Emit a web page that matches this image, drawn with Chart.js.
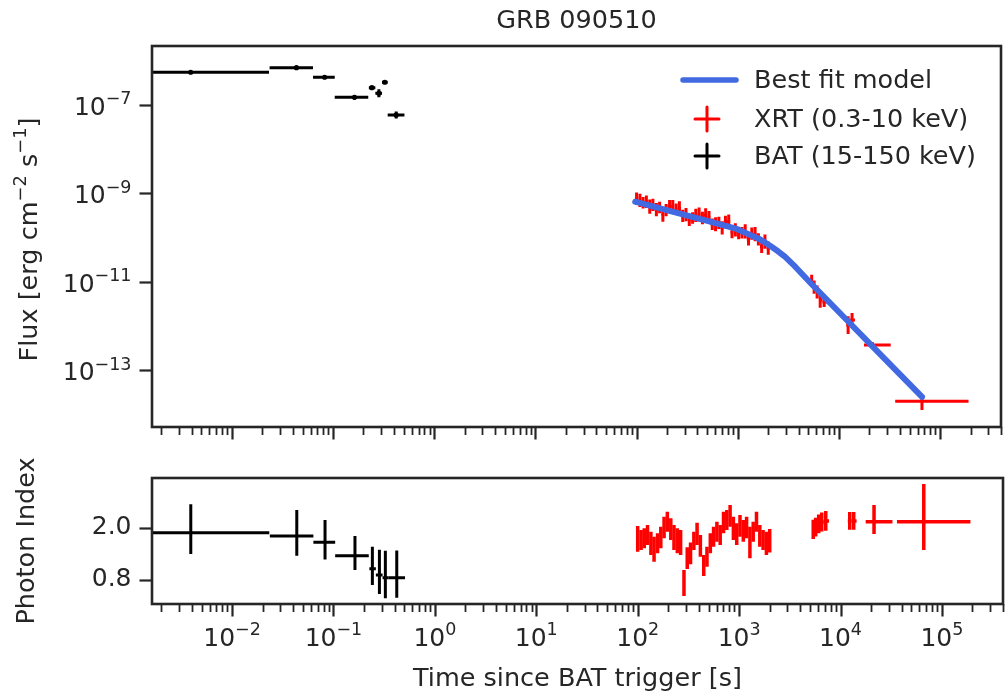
<!DOCTYPE html>
<html><head><meta charset="utf-8">
<script src="https://cdn.jsdelivr.net/npm/chart.js@4"></script>
<style>
html,body{margin:0;padding:0;background:#fff;}
#wrap{position:relative;width:1005px;height:698px;overflow:hidden;}
canvas{position:absolute;left:0;top:0;}
</style></head>
<body><div id="wrap"><canvas id="cTop" width="1005" height="698"></canvas><canvas id="cBot" width="1005" height="698"></canvas></div>
<script>
// ---------------- DATA ----------------
const xTickValues = [1e-2, 1e-1, 1e0, 1e1, 1e2, 1e3, 1e4, 1e5];
const xTickLabels = ['10^−2', '10^−1', '10^0', '10^1', '10^2', '10^3', '10^4', '10^5'];
const fluxTickValues = [1e-7, 1e-9, 1e-11, 1e-13];
const fluxTickLabels = ['10^−7', '10^−9', '10^−11', '10^−13'];
const indexTickValues = [0.8, 2.0];
const indexTickLabels = ['0.8', '2.0'];
const fluxAxisTitle = ['Flux [erg cm', '^−2', ' s', '^−1', ']'];

// BAT (15-150 keV)
const batTime   = [3.92e-3, 0.0435, 0.0826, 0.163, 0.242, 0.284, 0.325, 0.421];
const batTimeLo = [1e-4, 0.0236, 0.0634, 0.104, 0.226, 0.262, 0.305, 0.347];
const batTimeHi = [0.0233, 0.0634, 0.104, 0.223, 0.262, 0.305, 0.347, 0.508];
const batFlux   = [5.5e-7, 6.98e-7, 4.24e-7, 1.49e-7, 2.46e-7, 1.84e-7, 3.27e-7, 5.94e-8];
const batFluxErrDex = [0.03, 0.03, 0.04, 0.05, 0.04, 0.09, 0.03, 0.08];
const batIndex   = [1.885, 1.81, 1.665, 1.358, 1.059, 0.915, 0.853, 0.853];
const batIndexLo = [1.397, 1.358, 1.268, 1.029, 0.685, 0.479, 0.38, 0.394];
const batIndexHi = [2.537, 2.406, 2.177, 1.81, 1.564, 1.495, 1.472, 1.479];

// XRT (0.3-10 keV), first orbit
const xrtTime = [100,108,116,125,135,145,157,169,182,196,212,228,246,265,286,308,332,358,385,415,448,482,520,560,604,651,702,756,815,878,947,1020,1100,1185,1278,1377,1484,1600,1724,1858,2003];
const xrtTimeErr = [3.8,4.1,4.4,4.8,5.1,5.5,6.0,6.4,6.9,7.5,8.1,8.7,9.3,10.1,10.9,11.7,12.6,13.6,14.6,15.8,17.0,18.3,19.8,21.3,23.0,24.7,26.7,28.7,31.0,33.4,36.0,38.8,41.8,45.0,48.6,52.3,56.4,60.8,65.5,70.6,76.1];
const xrtFlux = [7.59e-10,6.92e-10,6.17e-10,6.46e-10,5.02e-10,5.51e-10,4.28e-10,4.80e-10,3.32e-10,4.18e-10,5.03e-10,5.15e-10,4.38e-10,4.59e-10,3.10e-10,3.33e-10,2.52e-10,2.77e-10,3.18e-10,3.33e-10,2.77e-10,3.26e-10,2.90e-10,2.01e-10,2.01e-10,2.16e-10,1.67e-10,2.26e-10,2.31e-10,1.33e-10,1.49e-10,1.27e-10,1.29e-10,1.38e-10,9.33e-11,1.23e-10,1.20e-10,9.12e-11,6.31e-11,8.13e-11,5.75e-11];
const xrtFluxErrDex = [0.14,0.15,0.13,0.14,0.16,0.14,0.15,0.13,0.16,0.14,0.15,0.14,0.13,0.16,0.14,0.15,0.14,0.13,0.15,0.16,0.14,0.15,0.14,0.13,0.16,0.14,0.15,0.14,0.16,0.14,0.15,0.14,0.13,0.16,0.15,0.14,0.16,0.14,0.15,0.16,0.15];
const xrtIndex = [1.744,1.718,1.757,1.833,1.641,1.507,1.642,1.775,2.005,2.138,1.967,1.775,1.70,1.66,0.731,1.30,1.412,1.698,1.859,1.584,1.133,1.335,1.642,1.794,1.908,1.833,2.119,2.177,2.272,1.985,1.852,2.042,1.928,2.005,1.66,1.908,2.138,1.813,1.718,1.641,1.70];
const xrtIndexErr = [0.295,0.229,0.229,0.229,0.267,0.287,0.229,0.248,0.248,0.229,0.249,0.287,0.287,0.287,0.298,0.25,0.25,0.21,0.256,0.249,0.241,0.229,0.229,0.229,0.229,0.229,0.248,0.229,0.249,0.267,0.249,0.249,0.249,0.248,0.362,0.229,0.229,0.249,0.229,0.267,0.267];

// XRT, later orbits
const xrtLateTime   = [5380, 5690, 6090, 6530, 7150, 12330, 13490, 21400, 66200];
const xrtLateTimeLo = [5250, 5530, 5890, 6310, 6850, 11800, 12900, 17700, 36000];
const xrtLateTimeHi = [5530, 5890, 6310, 6850, 7700, 12900, 14400, 32500, 191000];
const xrtLateFlux   = [1.05e-11, 7.6e-12, 5.9e-12, 3.9e-12, 3.5e-12, 1.05e-12, 1.37e-12, 3.7e-13, 2.0e-14];
const xrtLateFluxLo = [7.6e-12, 5.4e-12, 4.2e-12, 2.6e-12, 2.7e-12, 6.6e-13, 9.5e-13, 3.15e-13, 1.26e-14];
const xrtLateFluxHi = [1.45e-11, 1.07e-11, 8.3e-12, 5.8e-12, 4.6e-12, 1.66e-12, 1.98e-12, 4.35e-13, 2.5e-14];
const xrtLateIndex   = [1.959, 2.016, 2.085, 2.131, 2.154, 2.154, 2.154, 2.138, 2.138];
const xrtLateIndexLo = [1.74, 1.80, 1.87, 1.91, 1.93, 1.95, 1.95, 1.855, 1.488];
const xrtLateIndexHi = [2.18, 2.23, 2.30, 2.35, 2.38, 2.36, 2.36, 2.52, 3.0];

// Best fit model
const modelTime = [97, 207, 440, 940, 1250, 1596, 1860, 2160, 2500, 2925, 3700, 5360, 11430, 24400, 66300];
const modelFlux = [6.49e-10, 4.06e-10, 2.59e-10, 1.62e-10, 1.22e-10, 9.6e-11, 7.8e-11, 6.2e-11, 4.9e-11, 3.7e-11, 2.2e-11, 8.95e-12, 1.52e-12, 2.58e-13, 2.51e-14];

// ---------------- BUILD POINTS ----------------
const dex = d => Math.pow(10, d);
const batFluxPts = batTime.map((t, i) => ({x: t, y: batFlux[i], xlo: batTimeLo[i], xhi: batTimeHi[i], ylo: batFlux[i] / dex(batFluxErrDex[i]), yhi: batFlux[i] * dex(batFluxErrDex[i])}));
const batIndexPts = batTime.map((t, i) => ({x: t, y: batIndex[i], xlo: batTimeLo[i], xhi: batTimeHi[i], ylo: batIndexLo[i], yhi: batIndexHi[i]}));
const xrtFluxPts = xrtTime.map((t, i) => ({x: t, y: xrtFlux[i], xlo: t - xrtTimeErr[i], xhi: t + xrtTimeErr[i], ylo: xrtFlux[i] / dex(xrtFluxErrDex[i]), yhi: xrtFlux[i] * dex(xrtFluxErrDex[i])}))
  .concat(xrtLateTime.map((t, i) => ({x: t, y: xrtLateFlux[i], xlo: xrtLateTimeLo[i], xhi: xrtLateTimeHi[i], ylo: xrtLateFluxLo[i], yhi: xrtLateFluxHi[i]})));
const xrtIndexPts = xrtTime.map((t, i) => ({x: t, y: xrtIndex[i], xlo: t - xrtTimeErr[i], xhi: t + xrtTimeErr[i], ylo: xrtIndex[i] - xrtIndexErr[i], yhi: xrtIndex[i] + xrtIndexErr[i]}))
  .concat(xrtLateTime.map((t, i) => ({x: t, y: xrtLateIndex[i], xlo: xrtLateTimeLo[i], xhi: xrtLateTimeHi[i], ylo: xrtLateIndexLo[i], yhi: xrtLateIndexHi[i]})));
const modelPts = modelTime.map((t, i) => ({x: t, y: modelFlux[i]}));

// ---------------- STYLE ----------------
const INK = '#262626';
const FONT = "'DejaVu Sans', sans-serif";
const X_MIN = 1.625e-3, X_MAX = 4.0e5;
const TICK_FS = 25, LABEL_FS = 25.5, TICK_LEN = 12.5, TICK_PAD = 8;

// draw "base^exp" strings (mathtext-like superscripts)
function mathParts(s) { return s.split(/(\^[^\s\]]+)/).filter(p => p.length); }
function mathWidth(ctx, parts, S) {
  let w = 0;
  parts.forEach(p => { const sup = p[0] === '^'; ctx.font = (sup ? S * 0.7 : S) + 'px ' + FONT; w += ctx.measureText(sup ? p.slice(1) : p).width; });
  return w;
}
function mathDraw(ctx, parts, x, baseline, S) {
  ctx.textAlign = 'left'; ctx.textBaseline = 'alphabetic';
  parts.forEach(p => {
    const sup = p[0] === '^'; const t = sup ? p.slice(1) : p;
    ctx.font = (sup ? S * 0.7 : S) + 'px ' + FONT;
    ctx.fillText(t, x, sup ? baseline - 0.42 * S : baseline);
    x += ctx.measureText(t).width;
  });
}

const errorBarPlugin = {
  id: 'errorBars',
  beforeDatasetsDraw(chart) {
    const {ctx, chartArea: a, scales: {x, y}} = chart;
    ctx.save();
    ctx.beginPath(); ctx.rect(a.left, a.top, a.right - a.left, a.bottom - a.top); ctx.clip();
    chart.data.datasets.forEach(ds => {
      if (!ds.errColor) return;
      ctx.strokeStyle = ds.errColor; ctx.lineWidth = ds.errWidth; ctx.lineCap = 'butt';
      ds.data.forEach(p => {
        const px = x.getPixelForValue(p.x), py = y.getPixelForValue(p.y);
        ctx.beginPath();
        ctx.moveTo(x.getPixelForValue(p.xlo), py); ctx.lineTo(x.getPixelForValue(p.xhi), py);
        ctx.moveTo(px, y.getPixelForValue(p.ylo)); ctx.lineTo(px, y.getPixelForValue(p.yhi));
        ctx.stroke();
      });
    });
    ctx.restore();
  }
};

const framePlugin = {
  id: 'frame',
  afterDraw(chart, args, opts) {
    const {ctx, chartArea: a, scales: {x, y}} = chart;
    ctx.save();
    ctx.strokeStyle = INK; ctx.fillStyle = INK; ctx.lineCap = 'butt';
    for (let e = -3; e <= 5; e++) for (let m = 1; m <= 9; m++) {
      const v = m * Math.pow(10, e);
      if (v < X_MIN || v > X_MAX) continue;
      const px = Math.round(x.getPixelForValue(v)) + 0.5;
      ctx.lineWidth = m === 1 ? 2.2 : 1.8;
      ctx.beginPath(); ctx.moveTo(px, a.bottom); ctx.lineTo(px, a.bottom + (m === 1 ? TICK_LEN : 8)); ctx.stroke();
    }
    opts.yTicks.forEach(v => {
      const py = Math.round(y.getPixelForValue(v)) + 0.5;
      ctx.lineWidth = 2.2;
      ctx.beginPath(); ctx.moveTo(a.left, py); ctx.lineTo(a.left - TICK_LEN, py); ctx.stroke();
    });
    // math-style tick labels
    if (opts.xLabels) {
      xTickValues.forEach((v, i) => {
        const parts = mathParts(xTickLabels[i]);
        const w = mathWidth(ctx, parts, TICK_FS);
        const px = x.getPixelForValue(v);
        mathDraw(ctx, parts, px - w / 2, a.bottom + TICK_LEN + TICK_PAD - 2 + 0.42 * TICK_FS + 0.73 * 0.7 * TICK_FS, TICK_FS);
      });
    }
    if (opts.yMathLabels) {
      opts.yTicks.forEach((v, i) => {
        const parts = mathParts(opts.yMathLabels[i]);
        const w = mathWidth(ctx, parts, TICK_FS);
        const py = y.getPixelForValue(v);
        mathDraw(ctx, parts, a.left - TICK_LEN - TICK_PAD - w, py + 10, TICK_FS);
      });
    }
    if (opts.yTitle) {
      const parts = mathParts(opts.yTitle.join(''));
      const w = mathWidth(ctx, parts, LABEL_FS);
      ctx.save();
      ctx.translate(27.5 + 0.36 * LABEL_FS, (a.top + a.bottom) / 2 + 3);
      ctx.rotate(-Math.PI / 2);
      mathDraw(ctx, parts, -w / 2, 0, LABEL_FS);
      ctx.restore();
    }
    ctx.lineWidth = 2.6;
    ctx.strokeRect(a.left, a.top, a.right - a.left, a.bottom - a.top);
    ctx.restore();
  }
};

const legendPlugin = {
  id: 'insideLegend',
  afterDraw(chart) {
    const {ctx, chartArea: a} = chart;
    const ds = chart.data.datasets;
    const rows = [a.top + 34, a.top + 73, a.top + 110];
    ctx.save();
    ds.forEach((d, i) => {
      const yy = rows[i];
      if (d.errColor) {
        ctx.strokeStyle = d.errColor; ctx.lineWidth = 3;
        const cx = a.right - 294;
        ctx.beginPath();
        ctx.moveTo(cx - 12, yy); ctx.lineTo(cx + 12, yy);
        ctx.moveTo(cx, yy - 12); ctx.lineTo(cx, yy + 12);
        ctx.stroke();
      } else {
        ctx.strokeStyle = d.borderColor; ctx.lineWidth = 5.5; ctx.lineCap = 'round';
        ctx.beginPath(); ctx.moveTo(a.right - 318, yy); ctx.lineTo(a.right - 265, yy); ctx.stroke();
      }
      ctx.fillStyle = INK; ctx.font = '25.5px ' + FONT; ctx.textBaseline = 'middle'; ctx.textAlign = 'left';
      ctx.fillText(d.label, a.right - 247, yy + 1);
    });
    ctx.restore();
  }
};

function xScale(showTitle, height) {
  return {
    type: 'logarithmic', min: X_MIN, max: X_MAX,
    afterBuildTicks: s => { s.ticks = xTickValues.map(v => ({value: v})); },
    afterFit: s => { s.height = height; },
    ticks: {display: false},
    grid: {display: false},
    border: {display: false},
    title: {display: showTitle, text: 'Time since BAT trigger [s]', color: INK,
      font: {family: FONT, size: LABEL_FS}, padding: {top: 0, bottom: 3}}
  };
}

Chart.defaults.animation = false;

new Chart(document.getElementById('cTop'), {
  type: 'scatter',
  data: {datasets: [
    {type: 'line', label: 'Best fit model', data: modelPts, borderColor: '#4169E1', borderWidth: 6,
     pointRadius: 0, fill: false, tension: 0, borderCapStyle: 'round', borderJoinStyle: 'round'},
    {label: 'XRT (0.3-10 keV)', data: xrtFluxPts, pointRadius: 0, errColor: '#ff0000', errWidth: 3},
    {label: 'BAT (15-150 keV)', data: batFluxPts, pointRadius: 2.6, pointBackgroundColor: '#000', pointBorderWidth: 0, errColor: '#000000', errWidth: 3}
  ]},
  options: {
    responsive: false, animation: false, devicePixelRatio: 1,
    layout: {padding: {top: 0, left: 0, right: 2, bottom: 0}},
    plugins: {
      legend: {display: false}, tooltip: {enabled: false},
      title: {display: true, text: 'GRB 090510', fullSize: false, color: INK,
        font: {family: FONT, size: 25.5, weight: 'normal'}, padding: {top: 6, bottom: 9.4}},
      frame: {yTicks: fluxTickValues, yMathLabels: fluxTickLabels, yTitle: fluxAxisTitle}
    },
    scales: {
      x: xScale(false, 698 - 427),
      y: {type: 'logarithmic', min: 5.2e-15, max: 2.16e-6,
        afterBuildTicks: s => { s.ticks = fluxTickValues.map(v => ({value: v})); },
        afterFit: s => { s.width = 152; },
        ticks: {display: false}, grid: {display: false}, border: {display: false},
        title: {display: false}
      }
    }
  },
  plugins: [errorBarPlugin, framePlugin, legendPlugin]
});

new Chart(document.getElementById('cBot'), {
  type: 'scatter',
  data: {datasets: [
    {label: 'XRT (0.3-10 keV)', data: xrtIndexPts, pointRadius: 0, errColor: '#ff0000', errWidth: 3.5},
    {label: 'BAT (15-150 keV)', data: batIndexPts, pointRadius: 0, errColor: '#000000', errWidth: 3}
  ]},
  options: {
    responsive: false, animation: false, devicePixelRatio: 1,
    layout: {padding: {top: 478, left: 0, right: 2, bottom: 0}},
    plugins: {legend: {display: false}, tooltip: {enabled: false}, frame: {yTicks: indexTickValues, xLabels: true}},
    scales: {
      x: xScale(true, 698 - 604),
      y: {type: 'linear', min: 0.249, max: 3.14,
        afterBuildTicks: s => { s.ticks = indexTickValues.map(v => ({value: v})); },
        afterFit: s => { s.width = 152; },
        ticks: {autoSkip: false, padding: TICK_PAD, color: INK, font: {family: FONT, size: TICK_FS}, callback: (v, i) => indexTickLabels[i]},
        grid: {display: true, drawOnChartArea: false, drawTicks: true, tickLength: TICK_LEN, tickColor: 'rgba(0,0,0,0)'},
        border: {display: false},
        title: {display: true, text: 'Photon Index', color: INK, font: {family: FONT, size: LABEL_FS}, padding: {top: 12, bottom: 0}}
      }
    }
  },
  plugins: [errorBarPlugin, framePlugin]
});
</script>
</body></html>
